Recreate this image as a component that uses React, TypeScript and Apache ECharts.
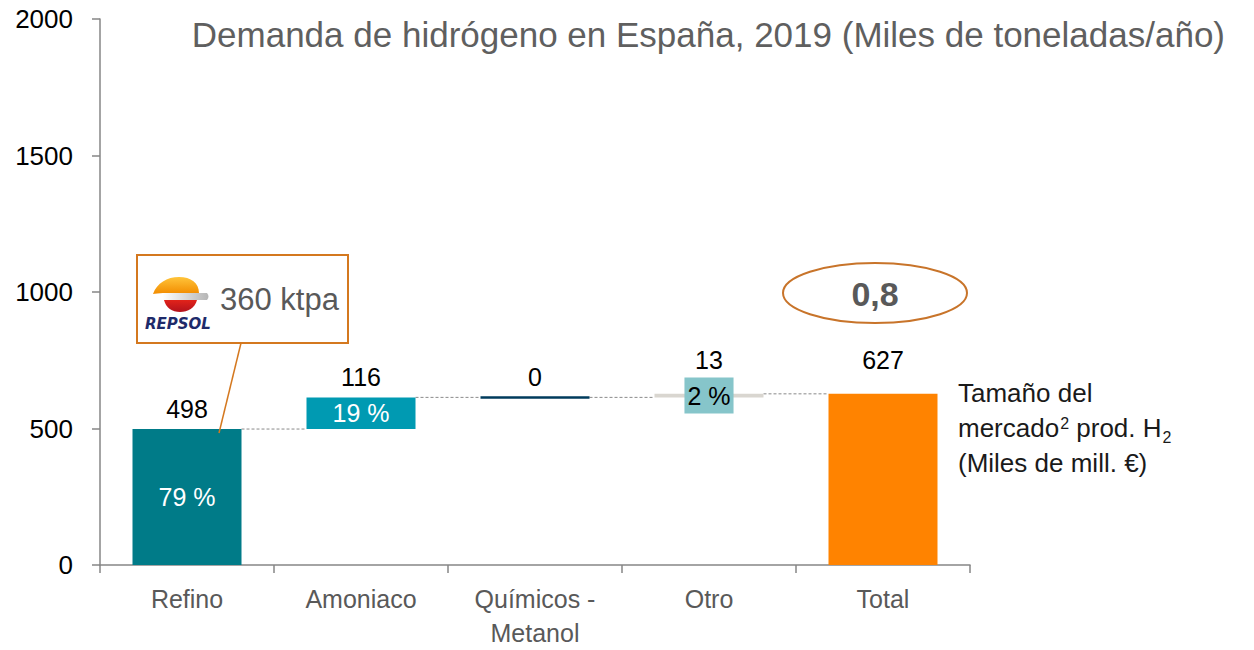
import React, { useEffect, useRef } from "react";
import * as echarts from "echarts";

const categories = ["Refino", "Amoniaco", "Químicos -\nMetanol", "Otro", "Total"];
const values = [498, 116, 0, 13, 627];
const bases = [0, 498, 614, 614, 0];
const percentLabels = ["79 %", "19 %", "", "2 %", ""];
const topLabels = ["498", "116", "0", "13", "627"];
const barColors = ["#007b88", "#009ab2", "#003b5c", "#d9d6d0", "#ff8300"];
const yTicks = [0, 500, 1000, 1500, 2000];

const FONT = "'Liberation Sans', Arial, sans-serif";

echarts.graphic.registerShape(
  "repsolFlame",
  echarts.graphic.extendPath("M0,17 C4,6 14,0 26,0 C38,0 46,6 46,16 L10,16 C6,16 2,17 0,17 Z", {})
);
echarts.graphic.registerShape(
  "repsolBand",
  echarts.graphic.extendPath("M10,16 L54,16 C56,18 56,21 54,23 L10,23 C9,21 9,18 10,16 Z", {})
);
echarts.graphic.registerShape(
  "repsolRed",
  echarts.graphic.extendPath("M11,23 L44,23 C42,31 35,35 27,35 C19,35 13,31 11,23 Z", {})
);

export default function App() {
  const ref = useRef<HTMLDivElement>(null);

  useEffect(() => {
    if (!ref.current) return;
    const chart = echarts.init(ref.current, undefined, { renderer: "svg" });
    const BAR_W = 109;
    const labelOffsets = [8, 8, 8, 21, 21];

    const connectorData = [0, 1, 2, 3].map((i) => [i, bases[i] + values[i]]);
    const topData = categories.map((_, i) => [i, bases[i] + values[i]]);

    chart.setOption({
      animation: false,
      textStyle: { fontFamily: FONT },
      grid: { left: 100, right: 284, top: 19, bottom: 85, containLabel: false, outerBoundsMode: "none" },
      xAxis: {
        type: "category",
        data: categories,
        axisLine: { lineStyle: { color: "#868686", width: 1.5 } },
        axisTick: { show: true, length: 8, lineStyle: { color: "#868686", width: 1.5 } },
        axisLabel: { fontSize: 25, color: "#595959", margin: 17, lineHeight: 34, fontFamily: FONT },
      },
      yAxis: {
        type: "value",
        min: yTicks[0],
        max: yTicks[yTicks.length - 1],
        interval: 500,
        splitLine: { show: false },
        axisLine: { show: true, lineStyle: { color: "#868686", width: 1.5 } },
        axisTick: { show: true, length: 8, lineStyle: { color: "#868686", width: 1.5 } },
        axisLabel: {
          fontSize: 26,
          color: "#000",
          margin: 27,
          fontFamily: FONT,
          formatter: (v: number) => String(v),
        },
      },
      series: [
        {
          type: "bar",
          stack: "w",
          barWidth: BAR_W,
          silent: true,
          itemStyle: { color: "transparent" },
          data: bases,
        },
        {
          type: "bar",
          stack: "w",
          barWidth: BAR_W,
          data: values.map((v, i) => ({
            value: v,
            itemStyle: { color: barColors[i] },
            label: {
              show: percentLabels[i] !== "",
              position: "inside",
              formatter: percentLabels[i],
              fontSize: 25,
              fontFamily: FONT,
              color: i === 3 ? "#000" : "#fff",
              backgroundColor: i === 3 ? "#86c5ca" : "transparent",
              padding: i === 3 ? [6, 3, 5, 3] : 0,
            },
          })),
        },
        {
          type: "custom",
          silent: true,
          data: connectorData,
          z: 1,
          renderItem: (params: any, api: any) => {
            const i = api.value(0);
            const lvl = api.value(1);
            const p = api.coord([i, lvl]);
            const cw = api.size([1, 0])[0];
            return {
              type: "line",
              shape: { x1: p[0] + BAR_W / 2, y1: p[1], x2: p[0] + cw - BAR_W / 2, y2: p[1] },
              style: { stroke: "#8a8a8a", lineWidth: 1, lineDash: [3, 2] },
            };
          },
        },
        {
          type: "custom",
          silent: true,
          data: topData,
          z: 5,
          renderItem: (params: any, api: any) => {
            const i = api.value(0);
            const lvl = api.value(1);
            const p = api.coord([i, lvl]);
            const children: any[] = [
              {
                type: "text",
                x: p[0],
                y: p[1] - labelOffsets[i],
                style: {
                  text: topLabels[i],
                  fontSize: 25,
                  fontFamily: FONT,
                  fill: "#000",
                  align: "center",
                  verticalAlign: "bottom",
                },
              },
            ];
            if (values[i] === 0) {
              children.push({
                type: "line",
                shape: { x1: p[0] - BAR_W / 2, y1: p[1], x2: p[0] + BAR_W / 2, y2: p[1] },
                style: { stroke: barColors[i], lineWidth: 2.5 },
              });
            }
            return { type: "group", children };
          },
        },
      ],
      graphic: [
        {
          type: "text",
          right: 29,
          top: 17,
          style: {
            text: "Demanda de hidrógeno en España, 2019 (Miles de toneladas/año)",
            fontSize: 35,
            fontFamily: FONT,
            fill: "#5f5f5f",
          },
        },
        {
          type: "rect",
          shape: { x: 137, y: 255, width: 211, height: 88 },
          style: { fill: "#fff", stroke: "#d4781f", lineWidth: 2 },
          z: 10,
        },
        {
          type: "line",
          shape: { x1: 241, y1: 343, x2: 219, y2: 433 },
          style: { stroke: "#d4781f", lineWidth: 1.5 },
          z: 10,
        },
        {
          type: "repsolFlame",
          x: 153,
          y: 277,
          z: 11,
          style: {
            fill: new echarts.graphic.LinearGradient(0, 0, 0, 1, [
              { offset: 0, color: "#ffc43a" },
              { offset: 1, color: "#f28c00" },
            ]),
          },
        },
        {
          type: "repsolBand",
          x: 153,
          y: 277,
          z: 11,
          style: {
            fill: new echarts.graphic.LinearGradient(0, 0, 1, 0, [
              { offset: 0, color: "#ffffff" },
              { offset: 1, color: "#b5b5b5" },
            ]),
          },
        },
        {
          type: "repsolRed",
          x: 153,
          y: 277,
          z: 11,
          style: {
            fill: new echarts.graphic.LinearGradient(0, 0, 0, 1, [
              { offset: 0, color: "#e2231a" },
              { offset: 1, color: "#b3121c" },
            ]),
          },
        },
        {
          type: "text",
          x: 145,
          y: 316,
          z: 11,
          style: {
            text: "REPSOL",
            fontSize: 15,
            fontWeight: "bold",
            fontStyle: "italic",
            fontFamily: "'DejaVu Sans', sans-serif",
            fill: "#1e2a6a",
          },
        },
        {
          type: "text",
          x: 220,
          y: 299,
          z: 11,
          style: {
            text: "360 ktpa",
            fontSize: 31,
            fontFamily: FONT,
            fill: "#595959",
            verticalAlign: "middle",
          },
        },
        {
          type: "ellipse",
          shape: { cx: 875, cy: 293, rx: 92, ry: 30 },
          style: { fill: "none", stroke: "#c8742a", lineWidth: 2 },
        },
        {
          type: "text",
          x: 875,
          y: 294,
          style: {
            text: "0,8",
            fontSize: 34,
            fontWeight: "bold",
            fontFamily: FONT,
            fill: "#595959",
            align: "center",
            verticalAlign: "middle",
          },
        },
        {
          type: "text",
          x: 958,
          y: 375,
          style: {
            text: "Tamaño del\nmercado{sup|2} prod. H{sub|2}\n(Miles de mill. €)",
            fontSize: 26,
            lineHeight: 35,
            fontFamily: FONT,
            fill: "#1a1a1a",
            rich: {
              sup: { fontSize: 16, fontFamily: FONT, fill: "#1a1a1a", verticalAlign: "top", lineHeight: 18, padding: [5, 0, 0, 1] },
              sub: { fontSize: 16, fontFamily: FONT, fill: "#1a1a1a", verticalAlign: "bottom", lineHeight: 18, padding: [0, 0, 0, 1] },
            },
          },
        },
      ],
    });

    return () => chart.dispose();
  }, []);

  return (
    <div
      ref={ref}
      style={{ position: "absolute", left: 0, top: 0, width: 1254, height: 650 }}
    />
  );
}
